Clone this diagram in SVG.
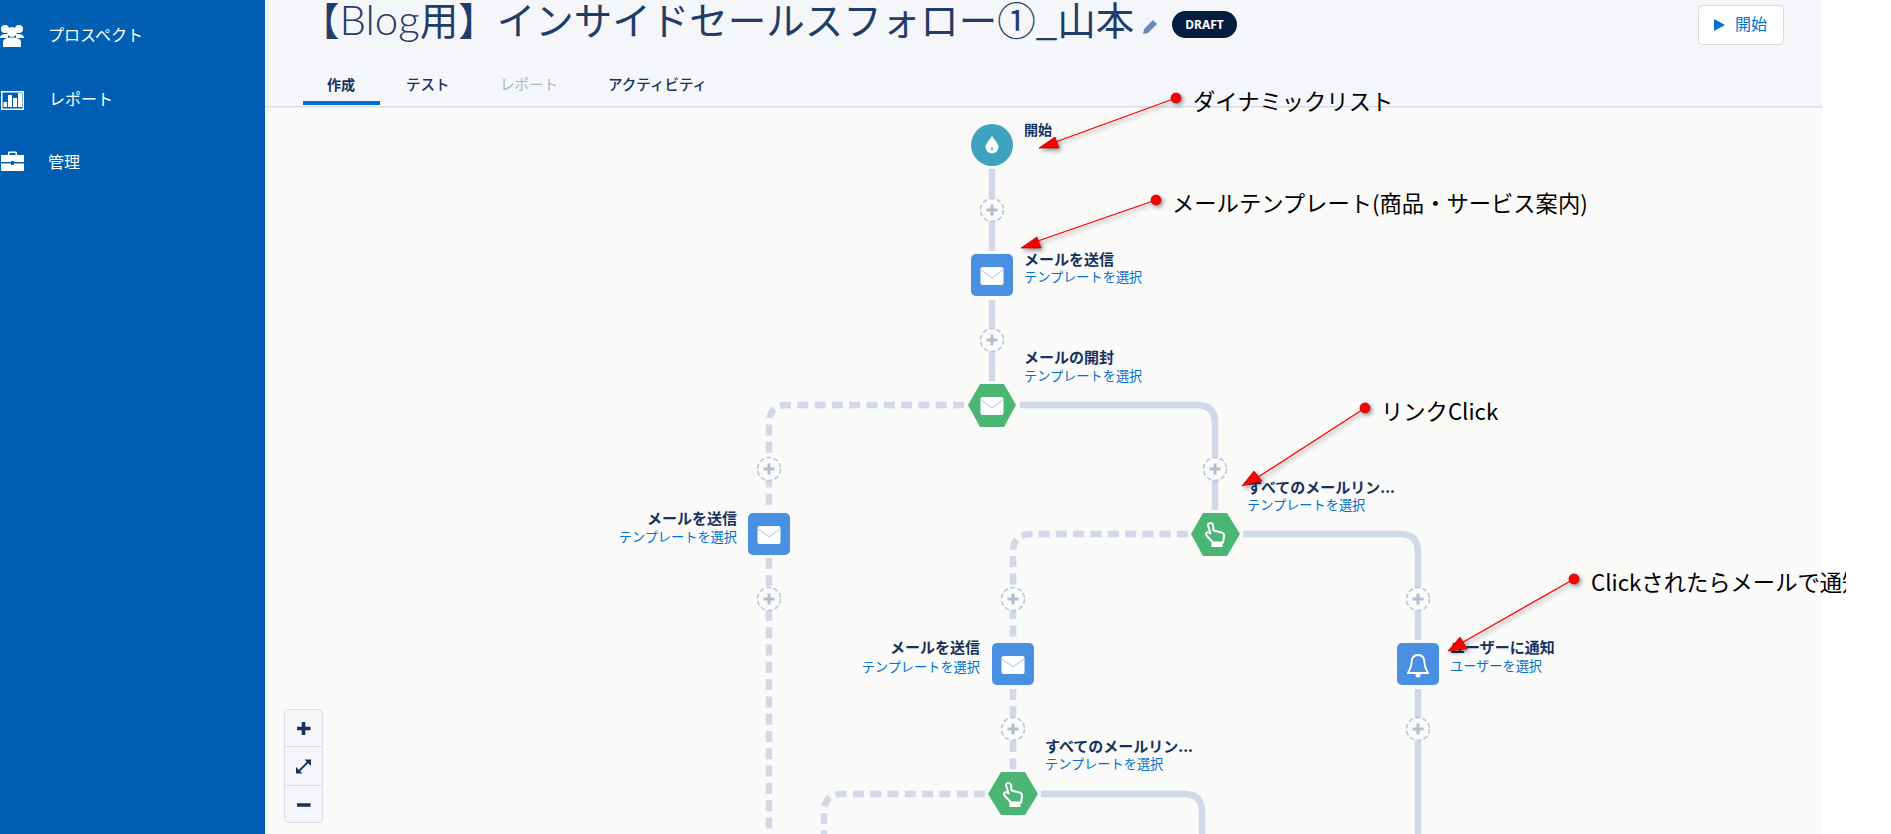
<svg xmlns="http://www.w3.org/2000/svg" width="1891" height="834" viewBox="0 0 1891 834">
<defs>
<style>
text{font-family:"Noto Sans CJK JP","Noto Sans",sans-serif}
.lb{font-size:15px;font-weight:700;fill:#16325c}
.ln{font-size:13.200px;fill:#0070d2}
.e{text-anchor:end}
.tab{font-size:14.500px;fill:#16325c}
.nav{font-size:16px;fill:#fff}
.ann{font-size:22.300px;fill:#000}
.solid{fill:none;stroke:#d1d8e8;stroke-width:6.5}
.dash{fill:none;stroke:#d1d8e8;stroke-width:6.5;stroke-dasharray:11 6.3}
.red{stroke:#f00;stroke-width:1.3;fill:none}
.head{fill:#f00;stroke:#900;stroke-width:.7}
.dot{fill:#f00;stroke:#900;stroke-width:.7}
.blue{fill:#4a90e2}
.green{fill:#4bb673}
</style>
<filter id="sh" x="-50%" y="-50%" width="200%" height="200%"><feDropShadow dx="2" dy="2" stdDeviation="2" flood-color="#000" flood-opacity=".45"/></filter>
<clipPath id="cut"><rect x="0" y="0" width="1846" height="834"/></clipPath>
<g id="add"><circle r="11.500" fill="#fafaf9" stroke="#bcc6d9" stroke-width="1.600" stroke-dasharray="4.800 2.500"/><path d="M-5.500 0H5.500M0-5.500V5.500" stroke="#b3bdd0" stroke-width="3"/></g>
<g id="mail"><rect x="-11.500" y="-9" width="23" height="18" rx="2" fill="#fff"/><path d="M-11 -6L0 2L11 -6" fill="none" stroke="#9cc3ef" stroke-width="1"/></g>
<g id="hand"><path d="M-7-9c0-2 4-3 5 0l.5 5.500 8 2c2 .5 3 2 2.500 4l-1 6h-10l-6.500-7c-1.500-2 .5-4 2.500-3l1.500 1z" fill="none" stroke="#fff" stroke-width="2" stroke-linejoin="round"/><rect x="-3.500" y="8" width="11" height="5" fill="#fff"/></g>
</defs>

<rect width="1891" height="834" fill="#fff"/>
<rect x="265" y="0" width="1557" height="834" fill="#fafaf9"/>
<rect x="265" y="0" width="1557" height="106" fill="#f4f6f9"/>
<rect x="265" y="106" width="1557" height="1.500" fill="#d8dde6"/>

<g id="sidebar">
<rect width="265" height="834" fill="#005fb2"/>
<g fill="#fff">
<circle cx="5" cy="29" r="4"/><circle cx="19" cy="29" r="4"/><circle cx="12" cy="32" r="5"/>
<path d="M0 38c0-3 2-4 8-4v4zM24 38c0-3-2-4-8-4v4z"/><path d="M3 47v-5c0-3 4-4.500 9-4.500s9 1.500 9 4.500v5z"/>
<path d="M1 91h23v19H1zM2.500 92.500v16h20v-16z" fill-rule="evenodd"/>
<rect x="3.500" y="102" width="3.500" height="5"/><rect x="8" y="95" width="4" height="12"/><rect x="13" y="98" width="4" height="9"/><rect x="18" y="93" width="4" height="14"/>
<path d="M8 155v-2c0-1 .5-1.500 1.500-1.500h6c1 0 1.500 .5 1.500 1.500v2h-1.500v-2h-6v2z"/>
<path d="M1 155h23v7H14v-1h-3v1H1zM1 163.500h10v1.500h3v-1.500h10v6.500a1 1 0 0 1-1 1H2a1 1 0 0 1-1-1z"/>
</g>
<text class="nav" x="48" y="41">プロスペクト</text>
<text class="nav" x="49" y="105">レポート</text>
<text class="nav" x="48" y="168">管理</text>
</g>

<g id="header">
<text x="301" y="34.500" font-size="38.500" fill="#1f3d68">【<tspan style="font-family:Lato,'Noto Sans',sans-serif" font-weight="300" font-size="42">Blog</tspan>用】インサイドセールスフォロー①_山本</text>
<path d="M1143 34l1-5 9-9 4 4-9 9z" fill="#6b89b8"/>
<rect x="1172" y="11" width="65" height="27" rx="13.500" fill="#061c3f"/>
<text x="1204.500" y="29" font-size="12" font-weight="700" fill="#fff" text-anchor="middle" style="font-family:'Noto Sans',sans-serif">DRAFT</text>
<rect x="1698.500" y="5.500" width="85" height="39" rx="4" fill="#fff" stroke="#dddbda"/>
<path d="M1714 19l11 6-11 6z" fill="#0070d2"/>
<text x="1735" y="30" font-size="16" fill="#0070d2">開始</text>
<rect x="303" y="101" width="77" height="4" fill="#0070d2"/>
<text class="tab" x="327" y="90" font-weight="700" style="font-size:14px">作成</text>
<text class="tab" x="406" y="90" font-weight="500">テスト</text>
<text class="tab" x="500" y="90" style="fill:#a8b7c7">レポート</text>
<text class="tab" x="608" y="90" font-weight="500">アクティビティ</text>
</g>

<g id="zoom-controls">
<rect x="284.500" y="709.500" width="38" height="113" rx="4" fill="#f4f6f9" stroke="#d8dde6" stroke-width="1.200"/>
<path d="M285 746.500h37M285 785.500h37" stroke="#d8dde6" stroke-width="1.200"/>
<path d="M297 728.500h13.500M303.500 722v13M297 805h13.500" stroke="#16325c" stroke-width="3.600" fill="none"/>
<path d="M298 772l10-10" stroke="#16325c" stroke-width="1.800"/>
<path d="M296 773.500v-6.500l6.500 6.500zM311 759.500v6.500l-6.500-6.500z" fill="#16325c"/>
</g>

<g id="connectors">
<path class="solid" d="M992 169V251M992 300V381"/>
<path class="solid" d="M1020 405H1197Q1215 405 1215 423V510"/>
<path class="dash" d="M964 405H787Q769 405 769 423V509M769 558V834"/>
<path class="solid" d="M1243 534H1400Q1418 534 1418 552V640M1418 689V834"/>
<path class="dash" d="M1188 534H1031Q1013 534 1013 552V640M1013 689V770"/>
<path class="solid" d="M1041 794H1184Q1202 794 1202 812V834"/>
<path class="dash" d="M985 794H842Q824 794 824 812V834"/>
</g>

<g id="node-start">
<circle cx="992" cy="145" r="21" fill="#3fa2bf"/>
<path d="M992 136c3 4.500 6.500 8 6.500 11a6.500 6.500 0 0 1-13 0c0-3 3.500-6.500 6.500-11z" fill="#fff"/>
<circle cx="992" cy="149" r="1.800" fill="#8cc6da"/>
<text class="lb" x="1024" y="135" style="font-size:14px">開始</text>
</g>
<use href="#add" x="992" y="210"/>
<g id="node-send-1">
<rect class="blue" x="971" y="254" width="42" height="42" rx="5"/>
<use href="#mail" x="992" y="276"/>
<text class="lb" x="1024" y="265">メールを送信</text>
<text class="ln" x="1024" y="282">テンプレートを選択</text>
</g>
<use href="#add" x="992" y="340"/>
<g id="node-open">
<path class="green" d="M980 384H1004L1016 405L1004 427H980L968 405Z"/>
<use href="#mail" x="992" y="406"/>
<text class="lb" x="1024" y="363">メールの開封</text>
<text class="ln" x="1024" y="381">テンプレートを選択</text>
</g>
<use href="#add" x="769" y="469"/>
<use href="#add" x="1215" y="469"/>
<g id="node-send-2">
<rect class="blue" x="748" y="513" width="42" height="42" rx="5"/>
<use href="#mail" x="769" y="535"/>
<text class="lb e" x="737" y="524">メールを送信</text>
<text class="ln e" x="737" y="542">テンプレートを選択</text>
</g>
<use href="#add" x="769" y="599"/>
<g id="node-click-1">
<path class="green" d="M1203 513H1227L1240 534L1227 556H1203L1191 534Z"/>
<use href="#hand" x="1215" y="534"/>
<text class="lb" x="1247" y="493">すべてのメールリン...</text>
<text class="ln" x="1247" y="510">テンプレートを選択</text>
</g>
<use href="#add" x="1013" y="599"/>
<use href="#add" x="1418" y="599"/>
<g id="node-send-3">
<rect class="blue" x="992" y="643" width="42" height="42" rx="5"/>
<use href="#mail" x="1013" y="665"/>
<text class="lb e" x="980" y="653">メールを送信</text>
<text class="ln e" x="980" y="672">テンプレートを選択</text>
</g>
<g id="node-notify">
<rect class="blue" x="1397" y="643" width="42" height="42" rx="5"/>
<path d="M1418 655c5 0 6.500 4 6.500 8 0 5 2.500 7 3.500 10h-20c1-3 3.500-5 3.500-10 0-4 1.500-8 6.500-8z" fill="none" stroke="#fff" stroke-width="1.800"/>
<circle cx="1418" cy="675" r="2.500" fill="#fff"/>
<text class="lb" x="1450" y="653">ユーザーに通知</text>
<text class="ln" x="1450" y="671">ユーザーを選択</text>
</g>
<use href="#add" x="1013" y="729"/>
<use href="#add" x="1418" y="729"/>
<g id="node-click-2">
<path class="green" d="M1001 772H1025L1038 794L1025 815H1001L988 794Z"/>
<use href="#hand" x="1013" y="794"/>
<text class="lb" x="1045" y="752">すべてのメールリン...</text>
<text class="ln" x="1045" y="769">テンプレートを選択</text>
</g>

<g id="annotations">
<g filter="url(#sh)">
<path class="red" d="M1176 98L1050 144"/><path class="head" d="M1039 148L1055 137L1059 148Z"/><circle class="dot" cx="1176" cy="98" r="5"/>
<path class="red" d="M1156 200L1032 243"/><path class="head" d="M1021 248L1037 237L1041 248Z"/><circle class="dot" cx="1156" cy="200" r="5"/>
<path class="red" d="M1365 408L1252 481"/><path class="head" d="M1242 486L1254 471L1262 481Z"/><circle class="dot" cx="1365" cy="408" r="5"/>
<path class="red" d="M1574 579L1458 645"/><path class="head" d="M1448 651L1460 637L1467 649Z"/><circle class="dot" cx="1574" cy="579" r="5"/>
</g>
<text class="ann" x="1193" y="110">ダイナミックリスト</text>
<text class="ann" x="1172" y="212">メールテンプレート(商品・サービス案内)</text>
<text class="ann" x="1381" y="420">リンクClick</text>
<text class="ann" x="1591" y="591" clip-path="url(#cut)">Clickされたらメールで通知</text>
</g>
</svg>
